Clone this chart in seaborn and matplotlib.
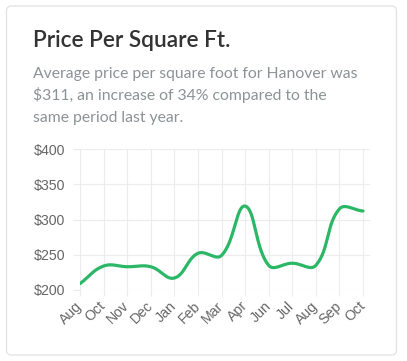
import numpy as np
import pandas as pd
import seaborn as sns
import matplotlib
matplotlib.use("Agg")
import matplotlib.pyplot as plt
from matplotlib.patches import FancyBboxPatch

# ---- data ----
months = ["Aug", "Oct", "Nov", "Dec", "Jan", "Feb", "Mar", "Apr", "Jun", "Jul", "Aug", "Sep", "Oct"]
price = [209, 234, 233, 233, 217, 252, 249, 319, 235, 238, 235, 315, 312]
y_ticks = [200, 250, 300, 350, 400]
y_labels = ["$200", "$250", "$300", "$350", "$400"]
title = "Price Per Square Ft."
subtitle = ["Average price per square foot for Hanover was",
            "$311, an increase of 34% compared to the",
            "same period last year."]

W, H = 407, 361
sns.set_theme(style="white")
plt.rcParams['font.family'] = ['Liberation Sans', 'DejaVu Sans']

fig = plt.figure(figsize=(W / 100, H / 100), dpi=100)
fig.patch.set_facecolor("white")

# card
card = FancyBboxPatch((6.5 / 100, (H - 355) / 100), 390 / 100, 349 / 100,
                      boxstyle="round,pad=0,rounding_size=0.05",
                      transform=fig.dpi_scale_trans, facecolor="white",
                      edgecolor="#e2e2e2", linewidth=0.9, zorder=-10)
fig.patches.append(card)

fig.text(33 / W, (H - 47) / H, title, fontsize=16.3, color="#333333", weight="semibold",
         family=["Lato", "DejaVu Sans"], va="baseline", ha="left")
for i, line in enumerate(subtitle):
    fig.text(33 / W, (H - 78 - 22 * i) / H, line, fontsize=11.3, color="#8d9297",
             family=["Lato", "DejaVu Sans"], va="baseline", ha="left")

# axes: pixel box left 80, right 370, top 149, bottom 290
left, right, top, bottom = 80, 370, 149, 290
ax = fig.add_axes([left / W, (H - bottom) / H, (right - left) / W, (bottom - top) / H])
ax.set_facecolor("none")
ax.set_zorder(5)

n = len(price)
step_px = 283 / (n - 1)
ax.set_xlim(0, (right - left) / step_px)
ax.set_ylim(200, 400)
sy = (bottom - top) / 200.0

# chart.js-style bezier smoothing (tension 0.4), computed in pixel space
xs = np.arange(n, dtype=float)
ys = np.array(price, dtype=float)
px = xs * step_px
py = ys * sy
t = 0.4
cpl = np.zeros((n, 2)); cpr = np.zeros((n, 2))
for i in range(n):
    p0 = np.array([px[max(i - 1, 0)], py[max(i - 1, 0)]])
    p1 = np.array([px[i], py[i]])
    p2 = np.array([px[min(i + 1, n - 1)], py[min(i + 1, n - 1)]])
    d01 = np.hypot(*(p1 - p0)); d12 = np.hypot(*(p2 - p1))
    tot = d01 + d12
    s01 = d01 / tot if tot else 0; s12 = d12 / tot if tot else 0
    cpl[i] = p1 - t * s01 * (p2 - p0)
    cpr[i] = p1 + t * s12 * (p2 - p0)
cx, cy = [], []
u = np.linspace(0, 1, 40)
for i in range(n - 1):
    P0 = np.array([px[i], py[i]]); P1 = cpr[i]; P2 = cpl[i + 1]; P3 = np.array([px[i + 1], py[i + 1]])
    b = ((1 - u) ** 3)[:, None] * P0 + (3 * (1 - u) ** 2 * u)[:, None] * P1 + \
        (3 * (1 - u) * u ** 2)[:, None] * P2 + (u ** 3)[:, None] * P3
    cx.extend(b[:, 0] / step_px); cy.extend(b[:, 1] / sy)
curve = pd.DataFrame({"x": cx, "y": cy})
sns.lineplot(data=curve, x="x", y="y", sort=False, ax=ax, color="#2bb766",
             linewidth=2.3, solid_capstyle="round", zorder=3)

ax.set_xticks(xs)
ax.set_xticklabels(months, rotation=45, ha="right", va="center", rotation_mode="anchor")
ax.set_yticks(y_ticks)
ax.set_yticklabels(y_labels)
ax.set_xlabel(""); ax.set_ylabel("")
for s in ax.spines.values():
    s.set_visible(False)
ax.grid(True, color="#ececec", linewidth=0.8)
ax.tick_params(axis="y", length=5, width=0.8, color="#ececec", pad=5.5,
               labelsize=10.2, labelcolor="#666666")
ax.tick_params(axis="x", length=4, width=0.8, color="#ececec", pad=6,
               labelsize=10.2, labelcolor="#666666")
ax.tick_params(left=True, bottom=True)

fig.savefig("out.png", dpi=100, facecolor="white")
